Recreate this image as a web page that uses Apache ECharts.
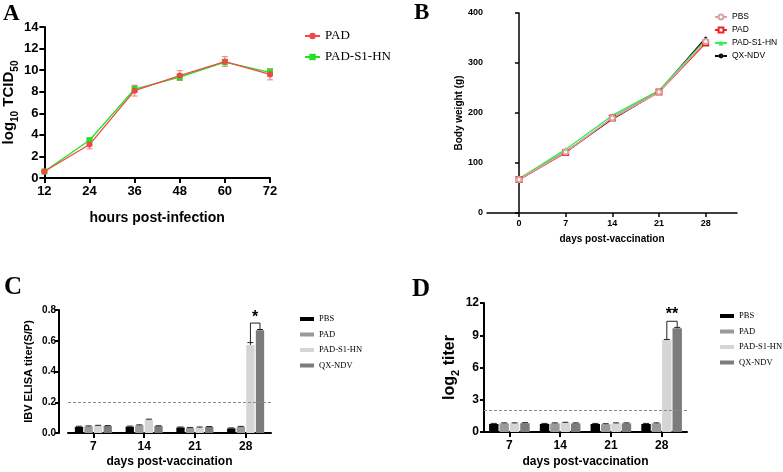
<!DOCTYPE html>
<html>
<head>
    <meta charset="utf-8">
    <title>IBV vaccine figure</title>
    <script src="https://cdn.jsdelivr.net/npm/echarts@6/dist/echarts.min.js"></script>
    <style>
        html, body { margin: 0; padding: 0; background: #fff; }
        #chart1 { width: 783px; height: 472px; }
    </style>
</head>
<body>
<div id="chart1"></div>
<script type="text/javascript">
    // A: virus growth curve
    var hoursA = [12, 24, 36, 48, 60, 72];
    var padA = [0.6, 3.1, 8.1, 9.5, 10.8, 9.6];
    var padAErr = [0.15, 0.4, 0.5, 0.45, 0.45, 0.5];
    var s1A = [0.6, 3.5, 8.25, 9.35, 10.75, 9.8];
    var s1AErr = [0.1, 0.2, 0.3, 0.3, 0.25, 0.35];

    // B: body weight
    var daysB = [0, 7, 14, 21, 28];
    var pbsB = [67, 122, 190, 242, 343];
    var padB = [67, 121, 190, 242, 340];
    var s1B = [68, 127, 195, 245, 346];
    var qxB = [67, 122, 188, 243, 350];

    // C / D: antibody titers
    var groups = ['PBS', 'PAD', 'PAD-S1-HN', 'QX-NDV'];
    var daysCD = ['7', '14', '21', '28'];
    var elisaPBS = [0.040, 0.041, 0.036, 0.030];
    var elisaPAD = [0.043, 0.050, 0.033, 0.040];
    var elisaS1 = [0.048, 0.087, 0.036, 0.573];
    var elisaQX = [0.046, 0.045, 0.040, 0.668];
    var elisaPBSErr = [0.004, 0.004, 0.003, 0.003];
    var elisaPADErr = [0.003, 0.003, 0.003, 0.003];
    var elisaS1Err = [0.002, 0.003, 0.003, 0.015];
    var elisaQXErr = [0.002, 0.002, 0.002, 0.005];
    var cutoffC = 0.2;
    var bracketC = [3, 0.59, 0.675, 0.715, 0.75];
    var starC = '*';

    var hiPBS = [0.75, 0.75, 0.75, 0.75];
    var hiPAD = [0.8, 0.8, 0.72, 0.8];
    var hiS1 = [0.8, 0.85, 0.8, 8.55];
    var hiQX = [0.82, 0.8, 0.8, 9.65];
    var hiPBSErr = [0.05, 0.05, 0.05, 0.05];
    var hiPADErr = [0.05, 0.05, 0.05, 0.05];
    var hiS1Err = [0.05, 0.05, 0.05, 0.06];
    var hiQXErr = [0.05, 0.05, 0.05, 0.08];
    var cutoffD = 2;
    var bracketD = [3, 8.62, 9.75, 10.3, 10.95];
    var starD = '**';

    var barColors = ['#000000', '#9a9a9a', '#d5d5d5', '#7c7c7c'];
    var SANS = 'Liberation Sans';
    var SERIF = 'Liberation Serif';

    var myChart1 = echarts.init(document.getElementById('chart1'));

    //折线误差线
    function lineErr(xs, ys, es) {
        return xs.map(function (x, i) { return [x, ys[i], es[i]]; });
    }
    function renderLineErr(params, api) {
        var top = api.coord([api.value(0), api.value(1) + api.value(2)]);
        var bot = api.coord([api.value(0), api.value(1) - api.value(2)]);
        var st = { stroke: api.visual('color'), lineWidth: 1 };
        return {
            type: 'group', children: [
                { type: 'line', shape: { x1: top[0], y1: top[1], x2: bot[0], y2: bot[1] }, style: st },
                { type: 'line', shape: { x1: top[0] - 3, y1: top[1], x2: top[0] + 3, y2: top[1] }, style: st },
                { type: 'line', shape: { x1: bot[0] - 3, y1: bot[1], x2: bot[0] + 3, y2: bot[1] }, style: st }
            ]
        };
    }

    //柱子在组内的x位置
    function slotX(api, cat, slot, catGap, barGap) {
        var band = api.size([1, 0])[0];
        var groupW = band * (1 - catGap);
        var bw = groupW / (4 + 3 * barGap);
        var c = api.coord([cat, 0])[0];
        return c - groupW / 2 + bw / 2 + slot * bw * (1 + barGap);
    }

    function barErrSeries(vals, errs, slot, axis, catGap, barGap) {
        return {
            type: 'custom', xAxisIndex: axis, yAxisIndex: axis, z: 3, silent: true,
            data: vals.map(function (v, i) { return [i, v, errs[i]]; }),
            renderItem: function (params, api) {
                var x = slotX(api, api.value(0), slot, catGap, barGap);
                var y0 = api.coord([api.value(0), api.value(1)])[1];
                var y1 = api.coord([api.value(0), api.value(1) + api.value(2)])[1];
                var st = { stroke: '#222', lineWidth: 1 };
                return {
                    type: 'group', children: [
                        { type: 'line', shape: { x1: x, y1: y0, x2: x, y2: y1 }, style: st },
                        { type: 'line', shape: { x1: x - 3, y1: y1, x2: x + 3, y2: y1 }, style: st }
                    ]
                };
            }
        };
    }

    function bracketSeries(br, label, axis, catGap, barGap, starSize) {
        return {
            type: 'custom', xAxisIndex: axis, yAxisIndex: axis, z: 4, silent: true,
            data: [br],
            renderItem: function (params, api) {
                var cat = api.value(0);
                var xl = slotX(api, cat, 2, catGap, barGap);
                var xr = slotX(api, cat, 3, catGap, barGap);
                var yl = api.coord([cat, api.value(1)])[1];
                var yr = api.coord([cat, api.value(2)])[1];
                var yt = api.coord([cat, api.value(3)])[1];
                var ys = api.coord([cat, api.value(4)])[1];
                return {
                    type: 'group', children: [
                        { type: 'polyline', shape: { points: [[xl, yl], [xl, yt], [xr, yt], [xr, yr]] },
                            style: { stroke: '#222', lineWidth: 1, fill: null } },
                        { type: 'text', x: (xl + xr) / 2, y: ys,
                            style: { text: label, fill: '#000', font: 'bold ' + starSize + 'px ' + SANS,
                                align: 'center', verticalAlign: 'middle' } }
                    ]
                };
            }
        };
    }

    function barSeries(name, vals, slot, axis, catGap, barGap, cutoff) {
        var s = {
            name: name, type: 'bar', xAxisIndex: axis, yAxisIndex: axis,
            data: vals, itemStyle: { color: barColors[slot] },
            barCategoryGap: (catGap * 100) + '%', barGap: (barGap * 100) + '%'
        };
        if (slot === 0) {
            s.markLine = {
                silent: true, symbol: 'none', label: { show: false },
                lineStyle: { color: '#8a8a8a', type: [3, 2], width: 1 },
                data: [{ yAxis: cutoff }]
            };
        }
        return s;
    }

    var tickLabel = function (size) {
        return { color: '#000', fontFamily: SANS, fontWeight: 'bold', fontSize: size };
    };
    var axisLine = function (w) {
        return { show: true, lineStyle: { color: '#000', width: w } };
    };
    var axisTick = function (len, w) {
        return { show: true, length: len, lineStyle: { color: '#000', width: w } };
    };
    var stripName = function (n) { return n.split('|')[1]; };

    var catGapC = 0.27, barGapC = 0.15;
    var catGapD = 0.2, barGapD = 0.1;

    var options = {
        animation: false,
        backgroundColor: '#fff',
        graphic: [
            { type: 'text', left: 3, top: 3, style: { text: 'A', font: 'bold 23px ' + SERIF, fill: '#000' } },
            { type: 'text', left: 414, top: 2, style: { text: 'B', font: 'bold 23px ' + SERIF, fill: '#000' } },
            { type: 'text', left: 4, top: 275, style: { text: 'C', font: 'bold 25px ' + SERIF, fill: '#000' } },
            { type: 'text', left: 412, top: 277, style: { text: 'D', font: 'bold 25px ' + SERIF, fill: '#000' } }
        ],
        grid: [
            { left: 44, top: 27, width: 226, height: 151 },
            { left: 487, top: 13, width: 250, height: 200 },
            { left: 68, top: 310, width: 203, height: 123 },
            { left: 484, top: 303, width: 203, height: 129 }
        ],
        legend: [
            {
                data: ['A|PAD', 'A|PAD-S1-HN'], orient: 'vertical', left: 304, top: 29, padding: 0,
                itemWidth: 15, itemHeight: 8, itemGap: 7, formatter: stripName,
                textStyle: { fontFamily: SERIF, fontSize: 13, lineHeight: 14, color: '#000' }
            },
            {
                data: ['B|PBS', 'B|PAD', 'B|PAD-S1-HN', 'B|QX-NDV'], orient: 'vertical', left: 714, top: 12, padding: 0,
                itemWidth: 12, itemHeight: 6, itemGap: 3, formatter: stripName,
                textStyle: { fontFamily: SANS, fontSize: 8.5, lineHeight: 10, color: '#000' }
            },
            {
                data: ['C|PBS', 'C|PAD', 'C|PAD-S1-HN', 'C|QX-NDV'], orient: 'vertical', left: 300, top: 314, padding: 0,
                icon: 'rect', itemWidth: 14, itemHeight: 4, itemGap: 5.5, formatter: stripName,
                textStyle: { fontFamily: SERIF, fontSize: 8.5, lineHeight: 10, color: '#000' }
            },
            {
                data: ['D|PBS', 'D|PAD', 'D|PAD-S1-HN', 'D|QX-NDV'], orient: 'vertical', left: 720, top: 311, padding: 0,
                icon: 'rect', itemWidth: 14, itemHeight: 4, itemGap: 5.5, formatter: stripName,
                textStyle: { fontFamily: SERIF, fontSize: 8.5, lineHeight: 10, color: '#000' }
            }
        ],
        xAxis: [
            {
                gridIndex: 0, type: 'value', min: 12, max: 72, interval: 12,
                axisLine: axisLine(2), axisTick: axisTick(5, 2), splitLine: { show: false },
                axisLabel: Object.assign(tickLabel(13), { margin: 7 }),
                name: 'hours post-infection', nameLocation: 'middle', nameGap: 33,
                nameTextStyle: { color: '#000', fontFamily: SANS, fontWeight: 'bold', fontSize: 14 }
            },
            {
                gridIndex: 1, type: 'value', min: -4.8, max: 32.7,
                axisLine: axisLine(1.5), splitLine: { show: false },
                axisTick: Object.assign(axisTick(4, 1.5), { customValues: daysB }),
                axisLabel: Object.assign(tickLabel(9), { margin: 6, customValues: daysB }),
                name: 'days post-vaccination', nameLocation: 'middle', nameGap: 21,
                nameTextStyle: { color: '#000', fontFamily: SANS, fontWeight: 'bold', fontSize: 10 }
            },
            {
                gridIndex: 2, type: 'category', data: daysCD,
                axisLine: axisLine(2), axisTick: Object.assign(axisTick(5, 2), { alignWithLabel: true }),
                axisLabel: Object.assign(tickLabel(12), { margin: 8 }),
                name: 'days post-vaccination', nameLocation: 'middle', nameGap: 23,
                nameTextStyle: { color: '#000', fontFamily: SANS, fontWeight: 'bold', fontSize: 12 }
            },
            {
                gridIndex: 3, type: 'category', data: daysCD,
                axisLine: axisLine(2), axisTick: Object.assign(axisTick(5, 2), { alignWithLabel: true }),
                axisLabel: Object.assign(tickLabel(12), { margin: 8 }),
                name: 'days post-vaccination', nameLocation: 'middle', nameGap: 24,
                nameTextStyle: { color: '#000', fontFamily: SANS, fontWeight: 'bold', fontSize: 12 }
            }
        ],
        yAxis: [
            {
                gridIndex: 0, type: 'value', min: 0, max: 14, interval: 2,
                axisLine: axisLine(2), axisTick: axisTick(5, 2), splitLine: { show: false },
                axisLabel: Object.assign(tickLabel(13), { margin: 6 }),
                name: '{m|log}{s|10}{m| TCID}{s|50}', nameLocation: 'middle', nameGap: 23,
                nameTextStyle: {
                    color: '#000', fontFamily: SANS, fontWeight: 'bold', fontSize: 14,
                    rich: {
                        m: { fontFamily: SANS, fontWeight: 'bold', fontSize: 15, color: '#000', verticalAlign: 'bottom', padding: [0, 0, 4, 0] },
                        s: { fontFamily: SANS, fontWeight: 'bold', fontSize: 10, color: '#000', verticalAlign: 'bottom' }
                    }
                }
            },
            {
                gridIndex: 1, type: 'value', min: 0, max: 400, interval: 100,
                axisLine: axisLine(1.5), axisTick: axisTick(4, 1.5), splitLine: { show: false },
                axisLabel: Object.assign(tickLabel(9), { margin: 4 }),
                name: 'Body weight (g)', nameLocation: 'middle', nameGap: 19,
                nameTextStyle: { color: '#000', fontFamily: SANS, fontWeight: 'bold', fontSize: 10 }
            },
            {
                gridIndex: 2, type: 'value', min: 0, max: 0.8, interval: 0.2, offset: 9,
                axisLine: axisLine(2), axisTick: axisTick(4, 2), splitLine: { show: false },
                axisLabel: Object.assign(tickLabel(10), {
                    margin: 3, formatter: function (v) { return v.toFixed(1); }
                }),
                name: 'IBV ELISA titer(S/P)', nameLocation: 'middle', nameGap: 25,
                nameTextStyle: { color: '#000', fontFamily: SANS, fontWeight: 'bold', fontSize: 11 }
            },
            {
                gridIndex: 3, type: 'value', min: 0, max: 12, interval: 3,
                axisLine: axisLine(2), axisTick: axisTick(4, 2), splitLine: { show: false },
                axisLabel: Object.assign(tickLabel(12), { margin: 5 }),
                name: '{m|log}{s|2}{m| titer}', nameLocation: 'middle', nameGap: 22,
                nameTextStyle: {
                    color: '#000', fontFamily: SANS, fontWeight: 'bold', fontSize: 15,
                    rich: {
                        m: { fontFamily: SANS, fontWeight: 'bold', fontSize: 16, color: '#000', verticalAlign: 'bottom', padding: [0, 0, 4, 0] },
                        s: { fontFamily: SANS, fontWeight: 'bold', fontSize: 11, color: '#000', verticalAlign: 'bottom' }
                    }
                }
            }
        ],
        series: [
            // A
            {
                type: 'custom', xAxisIndex: 0, yAxisIndex: 0, silent: true,
                itemStyle: { color: '#3ee83e' }, data: lineErr(hoursA, s1A, s1AErr), renderItem: renderLineErr
            },
            {
                name: 'A|PAD-S1-HN', type: 'line', xAxisIndex: 0, yAxisIndex: 0,
                data: hoursA.map(function (h, i) { return [h, s1A[i]]; }),
                symbol: 'rect', symbolSize: 6, color: '#22e022', lineStyle: { width: 1.3 }
            },
            {
                type: 'custom', xAxisIndex: 0, yAxisIndex: 0, silent: true,
                itemStyle: { color: '#f27a7a' }, data: lineErr(hoursA, padA, padAErr), renderItem: renderLineErr
            },
            {
                name: 'A|PAD', type: 'line', xAxisIndex: 0, yAxisIndex: 0,
                data: hoursA.map(function (h, i) { return [h, padA[i]]; }),
                symbol: 'circle', symbolSize: 6, color: '#f04848', lineStyle: { width: 1.3 }
            },
            // B
            {
                name: 'B|QX-NDV', type: 'line', xAxisIndex: 1, yAxisIndex: 1,
                data: daysB.map(function (d, i) { return [d, qxB[i]]; }),
                symbol: 'circle', symbolSize: 3, color: '#111', lineStyle: { width: 1.5 }
            },
            {
                name: 'B|PAD-S1-HN', type: 'line', xAxisIndex: 1, yAxisIndex: 1,
                data: daysB.map(function (d, i) { return [d, s1B[i]]; }),
                symbol: 'triangle', symbolSize: 5, color: '#33ee55', lineStyle: { width: 1.5 }
            },
            {
                name: 'B|PAD', type: 'line', xAxisIndex: 1, yAxisIndex: 1,
                data: daysB.map(function (d, i) { return [d, padB[i]]; }),
                symbol: 'emptyRect', symbolSize: 5, color: '#ee2222', lineStyle: { width: 1.5 }
            },
            {
                name: 'B|PBS', type: 'line', xAxisIndex: 1, yAxisIndex: 1,
                data: daysB.map(function (d, i) { return [d, pbsB[i]]; }),
                symbol: 'emptyCircle', symbolSize: 5, color: '#d9a3a3', lineStyle: { width: 1.5 }
            },
            // C
            barSeries('C|PBS', elisaPBS, 0, 2, catGapC, barGapC, cutoffC),
            barSeries('C|PAD', elisaPAD, 1, 2, catGapC, barGapC),
            barSeries('C|PAD-S1-HN', elisaS1, 2, 2, catGapC, barGapC),
            barSeries('C|QX-NDV', elisaQX, 3, 2, catGapC, barGapC),
            barErrSeries(elisaPBS, elisaPBSErr, 0, 2, catGapC, barGapC),
            barErrSeries(elisaPAD, elisaPADErr, 1, 2, catGapC, barGapC),
            barErrSeries(elisaS1, elisaS1Err, 2, 2, catGapC, barGapC),
            barErrSeries(elisaQX, elisaQXErr, 3, 2, catGapC, barGapC),
            bracketSeries(bracketC, starC, 2, catGapC, barGapC, 16),
            // D
            barSeries('D|PBS', hiPBS, 0, 3, catGapD, barGapD, cutoffD),
            barSeries('D|PAD', hiPAD, 1, 3, catGapD, barGapD),
            barSeries('D|PAD-S1-HN', hiS1, 2, 3, catGapD, barGapD),
            barSeries('D|QX-NDV', hiQX, 3, 3, catGapD, barGapD),
            barErrSeries(hiPBS, hiPBSErr, 0, 3, catGapD, barGapD),
            barErrSeries(hiPAD, hiPADErr, 1, 3, catGapD, barGapD),
            barErrSeries(hiS1, hiS1Err, 2, 3, catGapD, barGapD),
            barErrSeries(hiQX, hiQXErr, 3, 3, catGapD, barGapD),
            bracketSeries(bracketD, starD, 3, catGapD, barGapD, 16)
        ]
    };
    myChart1.setOption(options);
    window.addEventListener('resize', function () {
        myChart1.resize()
    })
</script>
</body>
</html>
